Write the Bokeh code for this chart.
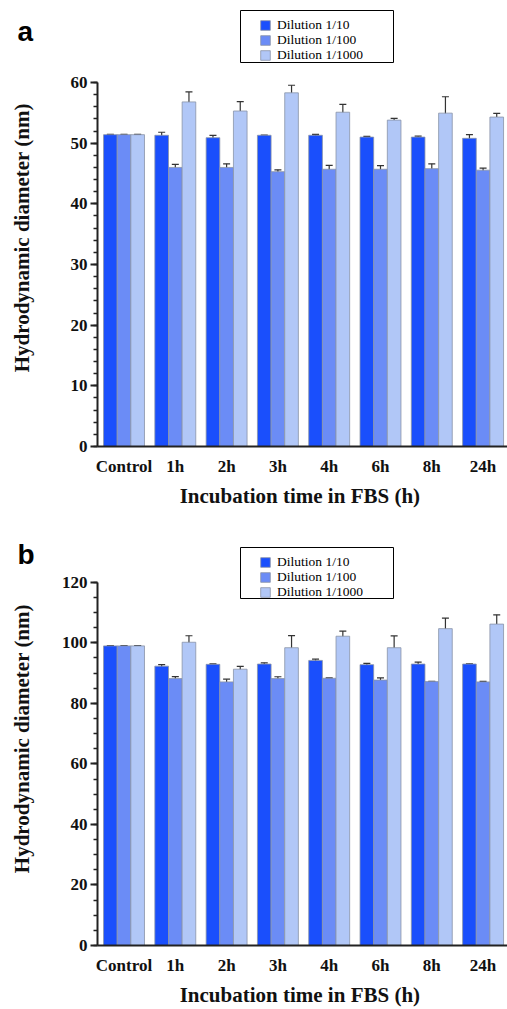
import math
from bokeh.plotting import figure
from bokeh.models import (ColumnDataSource, Whisker, TeeHead, Legend, LegendItem,
                          FixedTicker, SingleIntervalTicker, Range1d, BoxAnnotation)
from bokeh.core.properties import value
from bokeh.layouts import column, row
from bokeh.embed import file_html
from bokeh.resources import INLINE

categories = ["Control", "1h", "2h", "3h", "4h", "6h", "8h", "24h"]
series_names = ["Dilution 1/10", "Dilution 1/100", "Dilution 1/1000"]
y_title = "Hydrodynamic diameter  (nm)"
x_title = "Incubation time in FBS  (h)"

a_d10 = [51.4, 51.3, 50.9, 51.3, 51.3, 51.0, 51.0, 50.8]
a_d10_err = [0.05, 0.5, 0.4, 0.05, 0.15, 0.12, 0.15, 0.6]
a_d100 = [51.4, 46.0, 46.0, 45.3, 45.7, 45.7, 45.8, 45.55]
a_d100_err = [0.05, 0.5, 0.6, 0.3, 0.65, 0.6, 0.8, 0.35]
a_d1000 = [51.4, 56.8, 55.3, 58.3, 55.1, 53.8, 54.95, 54.3]
a_d1000_err = [0.05, 1.65, 1.55, 1.25, 1.3, 0.3, 2.7, 0.6]

b_d10 = [99.0, 92.3, 92.9, 93.0, 94.2, 92.8, 93.0, 93.0]
b_d10_err = [0.1, 0.5, 0.15, 0.4, 0.4, 0.45, 0.65, 0.1]
b_d100 = [99.0, 88.2, 87.1, 88.2, 88.3, 87.7, 87.2, 87.1]
b_d100_err = [0.1, 0.65, 0.9, 0.6, 0.1, 0.7, 0.1, 0.2]
b_d1000 = [99.0, 100.2, 91.3, 98.4, 102.2, 98.4, 104.7, 106.2]
b_d1000_err = [0.1, 2.15, 0.9, 4.0, 1.7, 3.9, 3.5, 3.05]

colors = ["#1a4ffc", "#6b8cf6", "#b1c7f7"]
SERIF = "Liberation Serif"
LEFT_W = 45
MAIN_W = 507 - LEFT_W
AXIS_X = 97          # canvas x of the y axis
ROT_SHIFT = 48       # empirical offset of rotated text anchor
ROW_PITCH = 15       # legend row pitch
ROW_C = 11           # distance from a legend's bottom to its row centre


def make_side(letter, H, letter_base, title_bottom):
    s = figure(width=LEFT_W, height=H, x_range=Range1d(0, LEFT_W), y_range=Range1d(0, H),
               output_backend="svg", toolbar_location=None,
               x_axis_location=None, y_axis_location=None,
               min_border_left=0, min_border_right=0, min_border_top=0, min_border_bottom=0)
    s.outline_line_color = None
    s.grid.grid_line_color = None
    s.text(x=[17], y=[H - letter_base], text=[letter], text_font=value("Liberation Sans"),
           text_font_style="bold", text_font_size="28px", text_color="black",
           text_align="left", text_baseline="alphabetic")
    s.text(x=[21], y=[H - title_bottom - ROT_SHIFT], text=[y_title], angle=math.pi / 2,
           text_font=value(SERIF), text_font_style="bold", text_font_size="21px",
           text_color="#111111", text_align="left", text_baseline="middle")
    return s


def make_main(series, errors, ymax, interval, n_minor, H, frame_bottom, top_px,
              box_top, box_bottom, glyph_center):
    # frame spans from canvas top (0) to frame_bottom; ymax sits at top_px
    yend = ymax * frame_bottom / (frame_bottom - top_px)
    p = figure(width=MAIN_W, height=H, output_backend="svg", toolbar_location=None,
               x_range=Range1d(-0.517, 7.476), y_range=Range1d(0, yend),
               min_border_left=AXIS_X - LEFT_W, min_border_right=0,
               min_border_top=0, min_border_bottom=H - frame_bottom)
    p.outline_line_color = None
    p.xgrid.grid_line_color = None
    p.ygrid.grid_line_color = None

    width = 0.266
    offsets = [-width, 0.0, width]
    renderers = []
    xs_idx = list(range(len(categories)))
    for k in range(3):
        xs = [i + offsets[k] for i in xs_idx]
        vals = series[k]
        errs = errors[k]
        src = ColumnDataSource(dict(x=xs, top=vals,
                                    upper=[v + e for v, e in zip(vals, errs)],
                                    lower=[v - e for v, e in zip(vals, errs)]))
        r = p.vbar(x="x", top="top", width=width, bottom=0, source=src,
                   fill_color=colors[k], line_color="#8a93a8", line_width=1,
                   line_alpha=0.8)
        renderers.append(r)
        w = Whisker(base="x", upper="upper", lower="lower", source=src,
                    line_color="#333333", line_width=1.2,
                    upper_head=TeeHead(size=7, line_color="#333333", line_width=1.2),
                    lower_head=TeeHead(size=7, line_color="#333333", line_width=1.2))
        p.add_layout(w)

    # legend box (screen units relative to the frame, y measured from frame bottom)
    box = BoxAnnotation(left=240 - AXIS_X, right=393 - AXIS_X,
                        top=frame_bottom - box_top, bottom=frame_bottom - box_bottom,
                        left_units="screen", right_units="screen",
                        top_units="screen", bottom_units="screen",
                        fill_color="white", fill_alpha=1.0, line_color="black",
                        line_alpha=1.0, line_width=1)
    p.add_layout(box)
    pad = 7
    for k in range(3):
        centre = glyph_center + k * ROW_PITCH
        leg = Legend(items=[LegendItem(label=series_names[k], renderers=[renderers[k]])],
                     location=(266 - AXIS_X - pad, frame_bottom - (centre + ROW_C)),
                     glyph_width=12, glyph_height=12, label_height=13, spacing=0,
                     padding=pad, label_standoff=6, margin=0,
                     label_text_font=SERIF, label_text_font_style="normal",
                     label_text_font_size="13.5px",
                     label_text_color="black", border_line_color=None,
                     background_fill_alpha=0.0)
        p.add_layout(leg, "center")

    xa = p.xaxis[0]
    xa.ticker = FixedTicker(ticks=xs_idx)
    xa.major_label_overrides = {i: c for i, c in enumerate(categories)}
    xa.major_tick_line_color = None
    xa.major_tick_out = 0
    xa.major_tick_in = 0
    xa.minor_tick_line_color = None
    xa.minor_tick_out = 0
    xa.axis_line_width = 2
    xa.axis_line_color = "#222222"
    xa.major_label_text_font = SERIF
    xa.major_label_text_font_style = "bold"
    xa.major_label_text_font_size = "17px"
    xa.major_label_text_color = "#111111"
    xa.major_label_standoff = 10
    xa.axis_label = x_title
    xa.axis_label_text_font = SERIF
    xa.axis_label_text_font_style = "bold"
    xa.axis_label_text_font_size = "21px"
    xa.axis_label_text_color = "#111111"
    xa.axis_label_standoff = 5

    ya = p.yaxis[0]
    ya.bounds = (0, ymax)
    ya.ticker = SingleIntervalTicker(interval=interval, num_minor_ticks=n_minor)
    ya.axis_line_width = 2
    ya.axis_line_color = "#222222"
    ya.major_tick_line_color = "#222222"
    ya.major_tick_line_width = 2
    ya.major_tick_out = 7
    ya.major_tick_in = 0
    ya.minor_tick_line_color = "#222222"
    ya.minor_tick_line_width = 1.5
    ya.minor_tick_out = 4
    ya.minor_tick_in = 0
    ya.major_label_text_font = SERIF
    ya.major_label_text_font_style = "bold"
    ya.major_label_text_font_size = "17px"
    ya.major_label_text_color = "#111111"
    ya.major_label_standoff = 3
    return p


HA, HB = 511, 498
side_a = make_side("a", HA, 35, 378)
main_a = make_main([a_d10, a_d100, a_d1000], [a_d10_err, a_d100_err, a_d1000_err],
                   60, 10, 5, HA, 446, 82, 10, 62, 21.5)
side_b = make_side("b", HB, 560 - HA, 878 - HA)
main_b = make_main([b_d10, b_d100, b_d1000], [b_d10_err, b_d100_err, b_d1000_err],
                   120, 20, 4, HB, 946 - HA, 582 - HA, 548 - HA, 599 - HA, 559.5 - HA)

layout = column(row(side_a, main_a, spacing=0), row(side_b, main_b, spacing=0), spacing=0)
open("out.html", "w").write(file_html(layout, INLINE))
